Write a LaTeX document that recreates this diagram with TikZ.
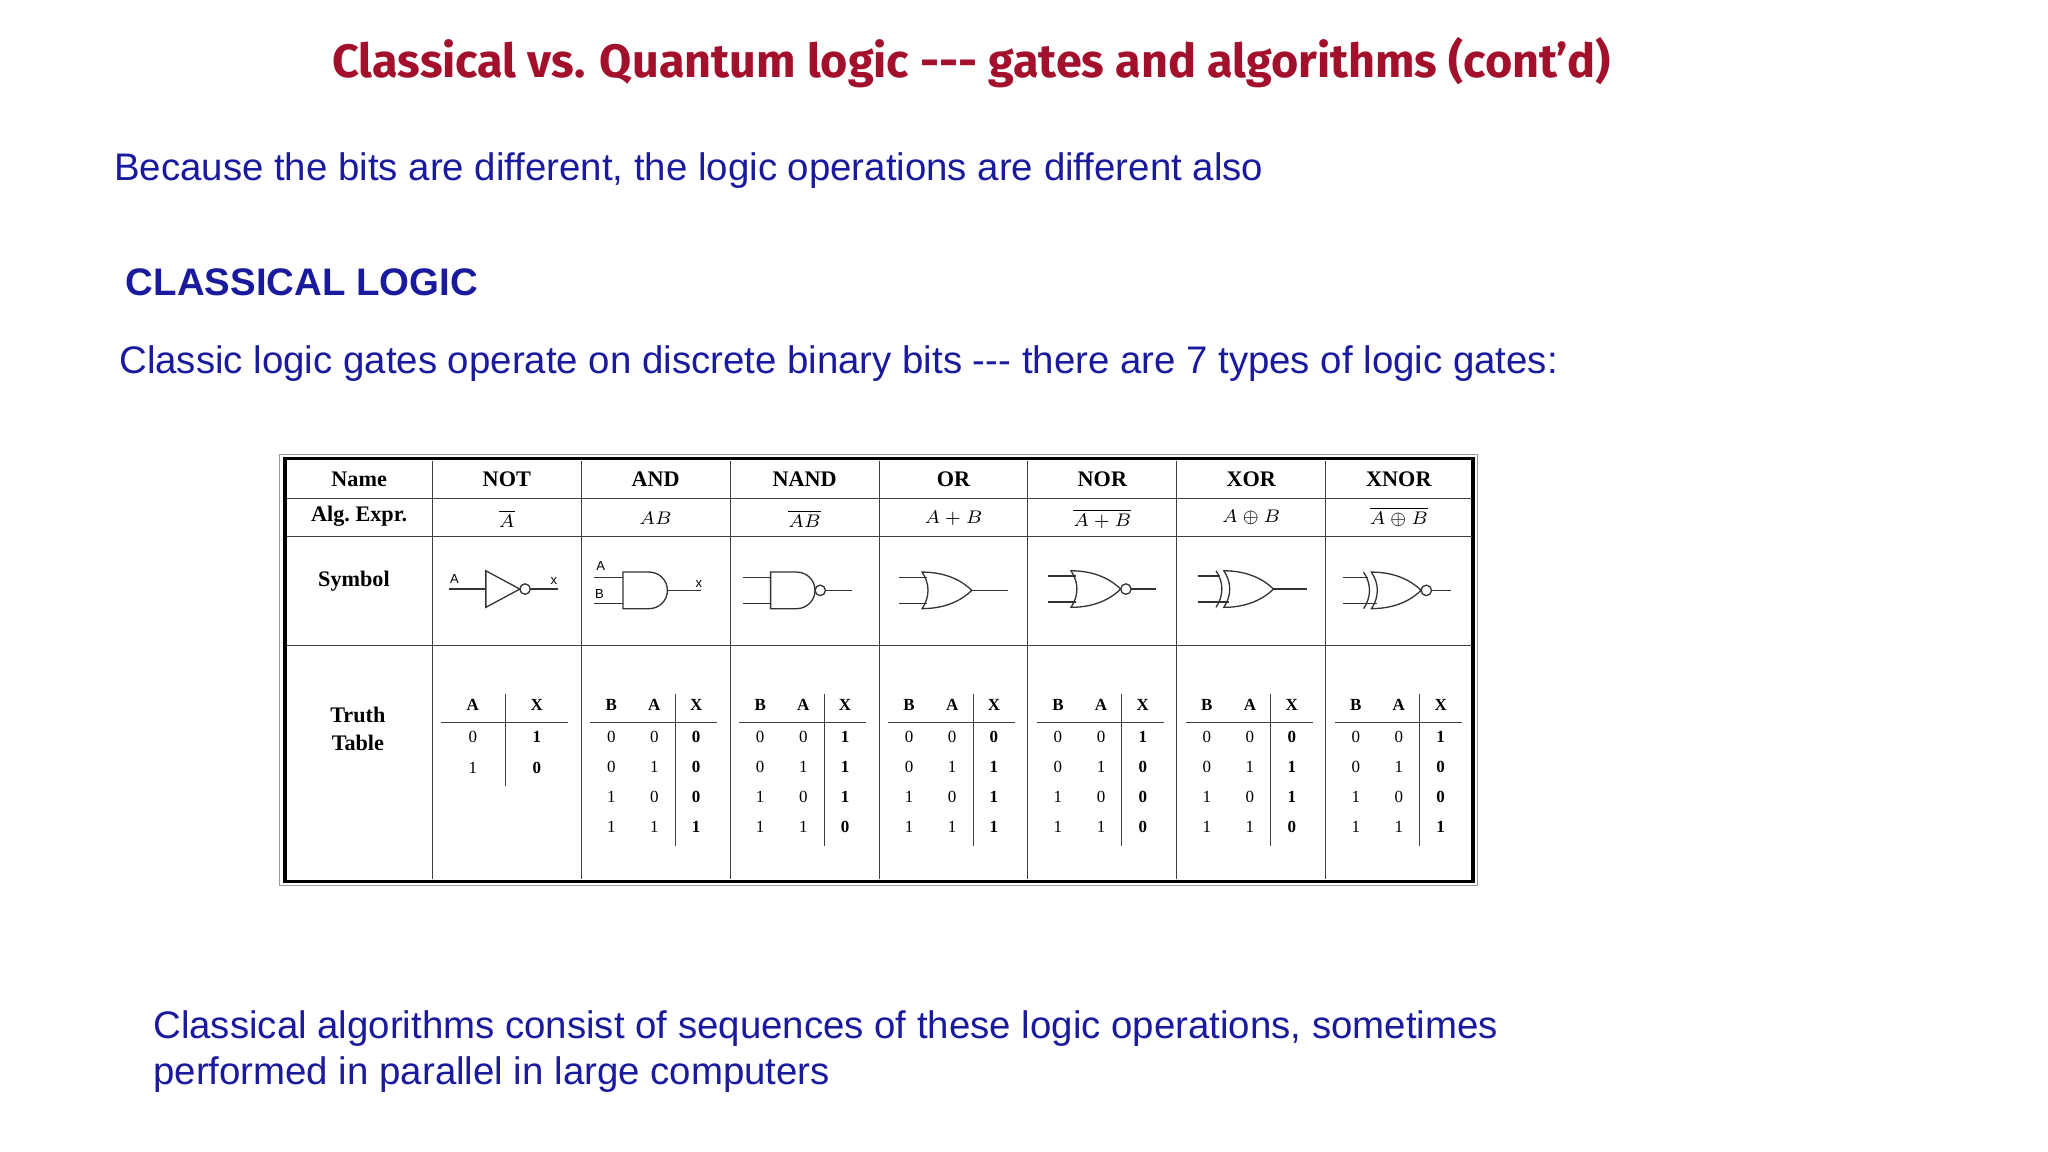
\documentclass[tikz,border=0pt]{standalone}
\usepackage{fontspec}
\setmainfont{Liberation Sans}
\newfontfamily\tnr{Liberation Serif}
\newfontfamily\ttl{Fira Sans}
\definecolor{ttlred}{HTML}{A3102B}
\definecolor{txtblue}{HTML}{1A1A9E}
\tikzset{
  ttlstyle/.style={font=\ttl\bfseries\fontsize{17.9}{20}\selectfont,text=ttlred,inner sep=0},
  bodytxt/.style={font=\fontsize{14.7}{18}\selectfont,text=txtblue,inner sep=0,anchor=base west},
  hd/.style={font=\tnr\bfseries\fontsize{8.5}{10}\selectfont,inner sep=0},
  alg/.style={font=\tnr\itshape\fontsize{7}{8}\selectfont,inner sep=0},
  tt/.style={font=\tnr\fontsize{6.5}{8}\selectfont,inner sep=0},
  ttb/.style={font=\tnr\bfseries\fontsize{6.5}{8}\selectfont,inner sep=0},
  lbl/.style={font=\fontsize{5}{6}\selectfont,inner sep=0},
  gate/.style={line width=0.5pt,black!80},
  grid/.style={line width=0.4pt,black!75},
}
\newcommand\andb[2]{\draw[gate] (#1,#2-14) -- (#1+20,#2-14) arc(-90:90:14) -- (#1,#2+14) -- cycle;}
\newcommand\orb[2]{\draw[gate] (#1,#2-14) .. controls (#1+6,#2-5) and (#1+6,#2+5) .. (#1,#2+14)
  .. controls (#1+20,#2+14) and (#1+32,#2+6) .. (#1+38,#2) .. controls (#1+32,#2-6) and (#1+20,#2-14) .. (#1,#2-14) -- cycle;}
\newcommand\xb[2]{\draw[gate] (#1-6,#2-14) .. controls (#1,#2-5) and (#1,#2+5) .. (#1-6,#2+14);}
\newcommand\bub[2]{\draw[gate] (#1,#2) circle (4);}
\newcommand\wire[3]{\draw[gate] (#1,#3) -- (#2,#3);}
\begin{document}
\begin{tikzpicture}[x=0.5pt,y=-0.5pt]
\useasboundingbox (0,0) rectangle (1568,882);
\node[ttlstyle] (title) at (744,48) {Classical vs. Quantum logic -{}-{}- gates and algorithms (cont’d)};
\node[bodytxt] (l1) at (87,138) {Because the bits are different, the logic operations are different also};
\node[bodytxt,font=\bfseries\fontsize{14.7}{18}\selectfont] (l2) at (96,226) {CLASSICAL LOGIC};
\node[bodytxt] (l3) at (91,286) {Classic logic gates operate on discrete binary bits -{}-{}- there are 7 types of logic gates:};
\node[bodytxt] (l4) at (117,795) {Classical algorithms consist of sequences of these logic operations, sometimes};
\node[bodytxt] (l5) at (117,830) {performed in parallel in large computers};
% table frame
\draw[line width=0.4pt,black!40] (214,348) rectangle (1131,678);
\draw[line width=1.4pt] (218,351) rectangle (1128,675);
\foreach \y in {382,411,494} \draw[grid] (220,\y) -- (1127,\y);
\foreach \x in {331,445,559,673,787,901,1015} \draw[grid] (\x,353) -- (\x,673);
% header
\foreach \t/\x in {Name/275,NOT/388,AND/502,NAND/616,OR/730,NOR/844,XOR/958,XNOR/1071}
  \node[hd] (h\t) at (\x,367) {\t};
\node[hd] (alg) at (275,395) {Alg.\ Expr.};
\node[hd] (sym) at (271,445) {Symbol};
\node[hd,align=center,font=\tnr\bfseries\fontsize{8.5}{11}\selectfont] (truth) at (274,558) {Truth\\Table};
\node[alg] (e1) at (388,397) {$\overline{A}$};
\node[alg] (e2) at (502,397) {$AB$};
\node[alg] (e3) at (616,397) {$\overline{AB}$};
\node[alg] (e4) at (730,397) {$A+B$};
\node[alg] (e5) at (844,397) {$\overline{A+B}$};
\node[alg] (e6) at (958,396) {$A\oplus B$};
\node[alg] (e7) at (1071,396) {$\overline{A\oplus B}$};
% NOT
\wire{344}{372}{451}
\draw[gate] (372,437) -- (398,451) -- (372,465) -- cycle;
\bub{402}{451}\wire{406}{427}{451}
\node[lbl] (nA) at (348,443) {A};
\node[lbl] (nX) at (424,445) {x};
% AND
\wire{455}{477}{442}\wire{455}{477}{462}
\andb{477}{452}\wire{511}{537}{452}
\node[lbl] (aA) at (460,433) {A};
\node[lbl] (aB) at (459,455) {B};
\node[lbl] (aX) at (535,447) {x};
% NAND
\wire{569}{590}{442}\wire{569}{590}{462}
\andb{590}{452}\bub{628}{452}\wire{632}{652}{452}
% OR
\wire{688}{710}{442}\wire{688}{710}{462}
\orb{706}{452}\wire{744}{772}{452}
% NOR
\wire{802}{824}{441}\wire{802}{824}{461}
\orb{820}{451}\bub{862}{451}\wire{866}{885}{451}
% XOR
\wire{917}{934}{441}\wire{917}{941}{461}
\orb{937}{451}\xb{937}{451}\wire{975}{1001}{451}
% XNOR
\wire{1028}{1047}{442}\wire{1028}{1054}{462}
\orb{1050}{452}\xb{1050}{452}\bub{1092}{452}\wire{1096}{1111}{452}
% NOT truth table
\node[ttb] (tnA) at (362,540) {A};
\node[ttb] (tnX) at (411,540) {X};
\draw[grid,line width=0.3pt] (338,553) -- (435,553);
\draw[grid] (387,531) -- (387,602);
\node[tt] at (362,564) {0}; \node[ttb] at (411,564) {1};
\node[tt] at (362,588) {1}; \node[ttb] at (411,588) {0};
% two input truth tables
\foreach \cl/\p/\q/\r/\s in {445/0/0/0/1,559/1/1/1/0,673/0/1/1/1,787/1/0/0/0,901/0/1/1/0,1015/1/0/0/1}{
  \node[ttb] at (\cl+23,540) {B};
  \node[ttb] at (\cl+56,540) {A};
  \node[ttb] at (\cl+88,540) {X};
  \draw[grid,line width=0.3pt] (\cl+7,553) -- (\cl+104,553);
  \draw[grid] (\cl+72,531) -- (\cl+72,648);
  \foreach \b/\a/\y in {0/0/564,0/1/587,1/0/610,1/1/633}{
    \node[tt] at (\cl+23,\y) {\b};
    \node[tt] at (\cl+56,\y) {\a};
  }
  \node[ttb] at (\cl+88,564) {\p};
  \node[ttb] at (\cl+88,587) {\q};
  \node[ttb] at (\cl+88,610) {\r};
  \node[ttb] at (\cl+88,633) {\s};
}
\end{tikzpicture}
\end{document}
